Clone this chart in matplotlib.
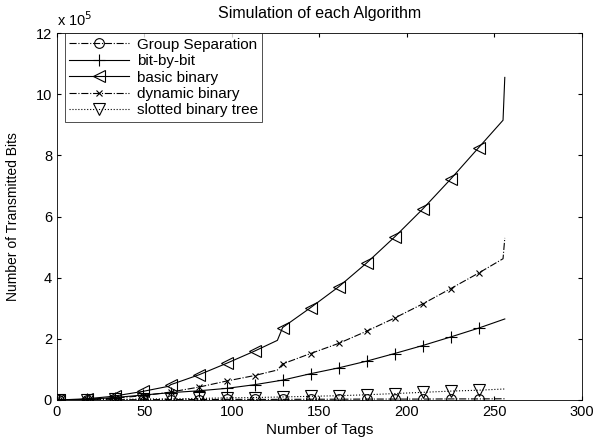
import numpy as np
import matplotlib.pyplot as plt
from matplotlib.ticker import FuncFormatter

plt.rcParams['font.family'] = ['Liberation Sans', 'DejaVu Sans']

# tag positions where the markers sit
mark_x = [1, 17, 33, 49, 65, 81, 97, 113, 129, 145, 161, 177, 193, 209, 225, 241]

# values, in units of 1e5 bits
gs_x = [1, 17, 33, 49, 65, 81, 97, 113, 129, 145, 161, 177, 193, 209, 225, 241, 256]
gs_y = [0.0, 0.005, 0.01, 0.01, 0.015, 0.015, 0.02, 0.02, 0.02, 0.025, 0.025, 0.03, 0.03, 0.03, 0.035, 0.035, 0.04]

bb_x = [1, 17, 33, 49, 65, 81, 97, 113, 129, 145, 161, 177, 193, 209, 225, 241, 256]
bb_y = [0.0, 0.02, 0.08, 0.16, 0.24, 0.3, 0.38, 0.5, 0.65, 0.86, 1.05, 1.27, 1.52, 1.78, 2.06, 2.35, 2.65]

basic_x = [1, 17, 32, 33, 49, 64, 65, 81, 97, 113, 126, 129, 145, 161, 177, 193, 209, 225, 241, 255, 256]
basic_y = [0.0, 0.04, 0.12, 0.13, 0.28, 0.45, 0.5, 0.82, 1.2, 1.6, 1.95, 2.37, 3.02, 3.7, 4.48, 5.33, 6.24, 7.22, 8.25, 9.15, 10.55]

dyn_x = [1, 17, 33, 49, 65, 81, 97, 113, 126, 129, 145, 161, 177, 193, 209, 225, 241, 255, 256]
dyn_y = [0.0, 0.02, 0.06, 0.14, 0.26, 0.42, 0.62, 0.8, 0.98, 1.18, 1.52, 1.85, 2.25, 2.68, 3.14, 3.64, 4.15, 4.62, 5.3]

sl_x = [1, 17, 33, 49, 65, 81, 97, 113, 129, 145, 161, 177, 193, 209, 225, 241, 256]
sl_y = [0.0, 0.01, 0.02, 0.03, 0.04, 0.05, 0.07, 0.08, 0.1, 0.12, 0.14, 0.17, 0.21, 0.25, 0.29, 0.32, 0.36]

series = [
    ("Group Separation", gs_x, gs_y, '-.', 'o', 7),
    ("bit-by-bit", bb_x, bb_y, '-', '+', 8),
    ("basic binary", basic_x, basic_y, '-', '<', 9),
    ("dynamic binary", dyn_x, dyn_y, '-.', 'x', 4),
    ("slotted binary tree", sl_x, sl_y, ':', 'v', 8),
]

fig = plt.figure(figsize=(6.06, 4.41), dpi=100)
ax = fig.add_axes([0.094, 0.093, 0.866, 0.832])

for name, xs, ys, ls, mk, ms in series:
    idx = [i for i, v in enumerate(xs) if v in mark_x]
    ax.plot(xs, np.array(ys) * 1e5, color='black', linestyle=ls, linewidth=0.8,
            marker=mk, markevery=idx, markersize=ms,
            markerfacecolor='none', markeredgecolor='black', markeredgewidth=0.8,
            label=name)

ax.set_xlim(0, 300)
ax.set_ylim(0, 12e5)
ax.set_xticks(range(0, 301, 50))
ax.set_yticks(np.arange(0, 12.1, 2) * 1e5)
ax.yaxis.set_major_formatter(FuncFormatter(lambda v, p: '%g' % (v / 1e5)))
ax.tick_params(direction='in', length=3, labelsize=10.5, top=True, right=True)
for s in ax.spines.values():
    s.set_linewidth(0.6)

ax.text(0.0, 1.012, r'x 10$^5$', transform=ax.transAxes, fontsize=10.5, ha='left', va='bottom')
ax.set_title("Simulation of each Algorithm", fontsize=11.5, pad=11)
ax.set_xlabel("Number of Tags", fontsize=11, labelpad=3)
ax.set_ylabel("Number of Transmitted Bits", fontsize=10, labelpad=11)

leg = ax.legend(loc='upper left', bbox_to_anchor=(0.015, 1.0), fontsize=11, frameon=True,
                fancybox=False, edgecolor='black', handlelength=3.9,
                borderpad=0.3, labelspacing=0.16, handletextpad=0.5, borderaxespad=0.0)
leg.get_frame().set_linewidth(0.6)

fig.savefig("out.png", dpi=100)
